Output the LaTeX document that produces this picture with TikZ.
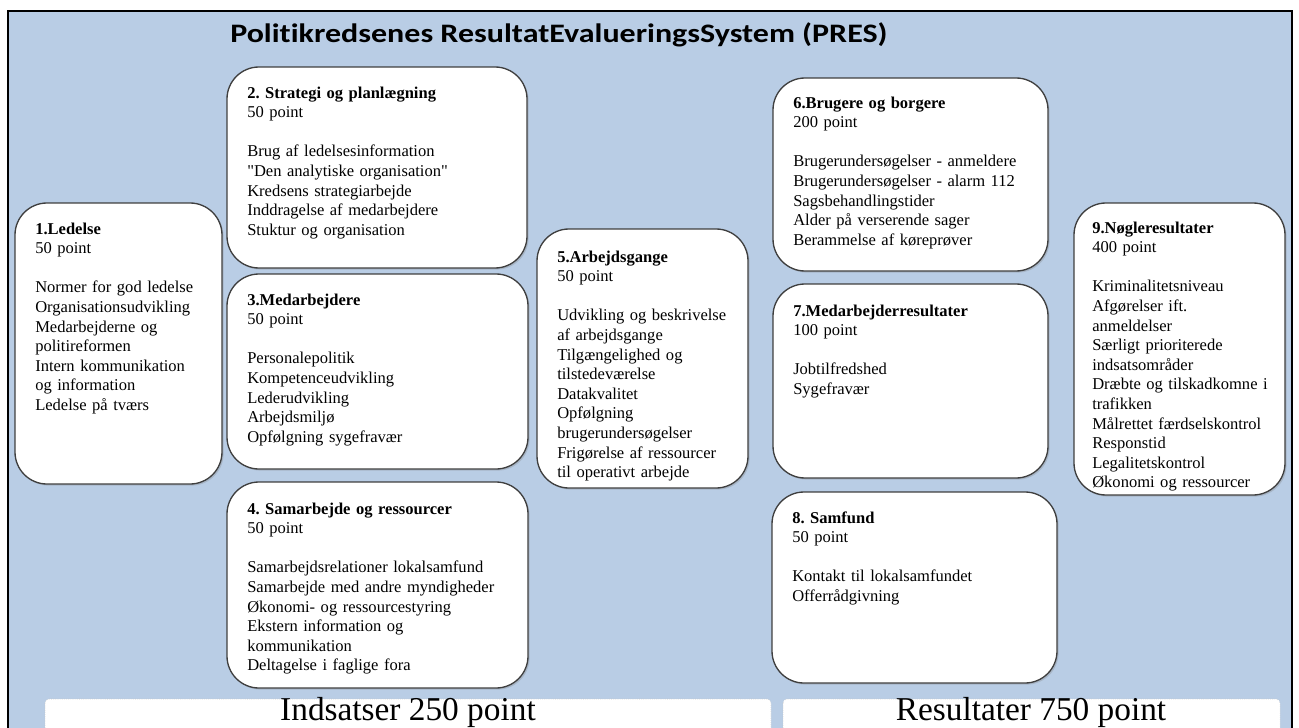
\documentclass[tikz,border=0pt]{standalone}
\usepackage{fontspec}
\setmainfont{Liberation Serif}
\newfontfamily\titlefont{Carlito}[FakeStretch=1.2, Ligatures=NoCommon]
\usetikzlibrary{shadows}
\definecolor{presblue}{HTML}{B9CDE5}
\definecolor{panelline}{HTML}{3F3F3F}
\tikzset{
  panel/.style={draw=panelline, line width=1pt, fill=white, rounded corners=24pt,
    drop shadow={shadow xshift=1.2pt, shadow yshift=-1.2pt, opacity=0.3}},
  paneltext/.style={anchor=base west, inner sep=0pt, text width=225pt, align=left,
    font=\fontsize{12.4}{14.7}\selectfont\frenchspacing},
  sumbox/.style={draw=gray!45, densely dotted, fill=white, rounded corners=3pt},
  sumtext/.style={anchor=base, inner sep=0pt, font=\fontsize{25}{28}\selectfont}
}

\begin{document}
\begin{tikzpicture}[x=0.75pt,y=0.75pt,yscale=-1,xscale=1]
    \useasboundingbox (0,0) rectangle (1299,728);
    \clip (0,0) rectangle (1299,728);
    
    %Shape: Rectangle (frame)
    \draw [line width=2.2pt, fill=presblue] (8,11) rectangle (1292,745);
    
    %Shape: Rounded Rect (1-9)
    \draw [panel] (15,203) rectangle (222,484);
    \draw [panel] (227,67) rectangle (527,268);
    \draw [panel] (227,274) rectangle (528,469);
    \draw [panel] (227,482) rectangle (528,688);
    \draw [panel] (537,229) rectangle (748,488);
    \draw [panel] (773,78) rectangle (1048,271);
    \draw [panel] (773,284) rectangle (1048,478);
    \draw [panel] (772,492) rectangle (1057,683);
    \draw [panel] (1074,203) rectangle (1285,495);
    
    %Shape: Rectangle (sums)
    \draw [sumbox] (45,699) rectangle (771,740);
    \draw [sumbox] (783,699) rectangle (1280,740);
    
    % Text Node
    \draw (230,42) node [anchor=base west, inner sep=0pt] (title) {\titlefont\bfseries\fontsize{20}{24}\selectfont Politikredsenes ResultatEvalueringsSystem (PRES)};
    % Text Node
    \draw (35,234) node [paneltext] (ledelse) {\textbf{1.Ledelse}\\ 50 point\\[14.7pt]
      Normer for god ledelse\\ Organisationsudvikling\\ Medarbejderne og\\ politireformen\\
      Intern kommunikation\\ og information\\ Ledelse på tværs};
    % Text Node
    \draw (247,98) node [paneltext] (strategi) {\textbf{2. Strategi og planlægning}\\ 50 point\\[14.7pt]
      Brug af ledelsesinformation\\ \textquotedbl Den analytiske organisation\textquotedbl\\ Kredsens strategiarbejde\\
      Inddragelse af medarbejdere\\ Stuktur og organisation};
    % Text Node
    \draw (247,305) node [paneltext] (medarb) {\textbf{3.Medarbejdere}\\ 50 point\\[14.7pt]
      Personalepolitik\\ Kompetenceudvikling\\ Lederudvikling\\ Arbejdsmiljø\\ Opfølgning sygefravær};
    % Text Node
    \draw (247,514) node [paneltext] (samarb) {\textbf{4. Samarbejde og ressourcer}\\ 50 point\\[14.7pt]
      Samarbejdsrelationer lokalsamfund\\ Samarbejde med andre myndigheder\\
      Økonomi- og ressourcestyring\\ Ekstern information og\\ kommunikation\\ Deltagelse i faglige fora};
    % Text Node
    \draw (557,262) node [paneltext] (arbgang) {\textbf{5.Arbejdsgange}\\ 50 point\\[14.7pt]
      Udvikling og beskrivelse\\ af arbejdsgange\\ Tilgængelighed og\\ tilstedeværelse\\
      Datakvalitet\\ Opfølgning\\ brugerundersøgelser\\ Frigørelse af ressourcer\\ til operativt arbejde};
    % Text Node
    \draw (793,108) node [paneltext] (brugere) {\textbf{6.Brugere og borgere}\\ 200 point\\[14.7pt]
      Brugerundersøgelser - anmeldere\\ Brugerundersøgelser - alarm 112\\ Sagsbehandlingstider\\
      Alder på verserende sager\\ Berammelse af køreprøver};
    % Text Node
    \draw (793,316) node [paneltext] (medres) {\textbf{7.Medarbejderresultater}\\ 100 point\\[14.7pt]
      Jobtilfredshed\\ Sygefravær};
    % Text Node
    \draw (792,523) node [paneltext] (samfund) {\textbf{8. Samfund}\\ 50 point\\[14.7pt]
      Kontakt til lokalsamfundet\\ Offerrådgivning};
    % Text Node
    \draw (1092,233) node [paneltext] (noegle) {\textbf{9.Nøgleresultater}\\ 400 point\\[14.7pt]
      Kriminalitetsniveau\\ Afgørelser ift.\\ anmeldelser\\ Særligt prioriterede\\ indsatsområder\\
      Dræbte og tilskadkomne i\\ trafikken\\ Målrettet færdselskontrol\\ Responstid\\
      Legalitetskontrol\\ Økonomi og ressourcer};
    % Text Node
    \draw (408,720) node [sumtext] (indsats) {Indsatser 250 point};
    % Text Node
    \draw (1031,720) node [sumtext] (resultat) {Resultater 750 point};
    
\end{tikzpicture}
\end{document}
